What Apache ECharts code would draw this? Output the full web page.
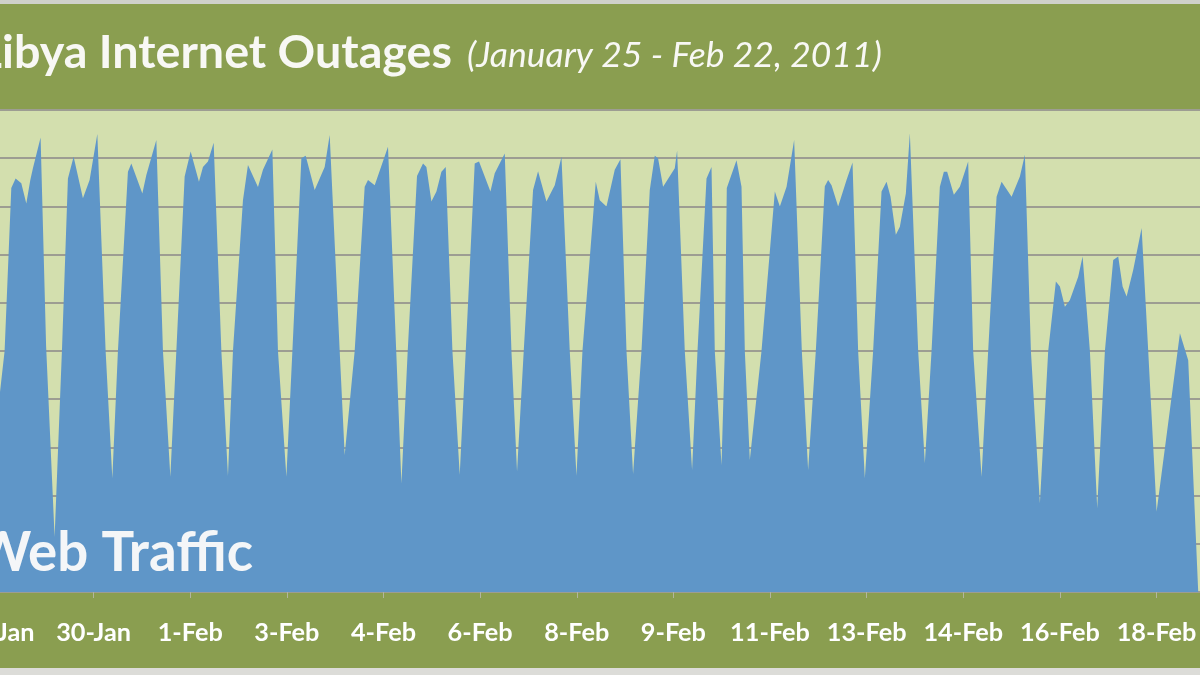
<!DOCTYPE html>
<html><head><meta charset="utf-8">
<script src="https://cdn.jsdelivr.net/npm/echarts@6/dist/echarts.min.js"></script>
<style>html,body{margin:0;padding:0;background:#8a9e50}#c{width:1200px;height:675px}</style>
</head><body><div id="c"></div>
<script>
const titleMain = 'Libya Internet Outages';
const titleSub = '(January 25 - Feb 22, 2011)';
const seriesName = 'Web Traffic';
const tickLabels = ['28-Jan','30-Jan','1-Feb','3-Feb','4-Feb','6-Feb','8-Feb','9-Feb','11-Feb','13-Feb','14-Feb','16-Feb','18-Feb'];
// hours since the 28-Jan tick (labels every 40 hours)
const hours = [0,3.15,5.92,7.70,10.06,12.13,13.79,14.87,18.05,20.33,23.85,26.95,29.36,31.72,35.57,38.34,41.53,44.97,47.74,50.06,54.20,55.61,60.17,61.82,65.96,68.70,71.76,74.24,77.68,80.17,83.60,85.26,87.33,89.69,92.88,95.61,97.68,101.82,103.89,108.03,110.10,113.99,116.31,119.79,122.28,126.00,127.78,131.51,135.65,137.72,141.86,143.93,148.07,152.21,153.58,156.36,161.86,165.26,167.41,170.02,173.87,176.36,177.76,179.83,181.91,183.98,185.76,188.53,191.55,194.04,197.76,199.54,204.26,206.05,210.19,212.96,215.28,218.05,221.91,223.98,227.45,230.89,233.67,237.10,239.88,242.36,247.87,249.52,252.30,255.73,258.09,260.58,263.31,266.79,270.23,272.30,273.66,275.74,280.58,281.54,284.72,287.74,289.98,293.71,295.78,297.14,299.92,301.28,302.11,306.13,308.20,309.57,311.64,316.48,322.00,324.07,326.85,329.99,333.17,335.78,338.96,342.69,344.06,345.47,348.20,351.68,354.16,356.48,359.26,362.69,366.17,368.24,369.90,372.09,373.75,376.23,377.89,381.33,384.10,386.87,390.31,391.97,393.33,396.11,398.59,402.03,404.10,407.56,410.31,413.79,415.86,420.00,423.44,425.51,428.00,431.72,435.16,438.34,440.00,442.07,444.14,447.58,449.40,452.42,455.45,458.63,462.07,464.14,465.96,467.62,470.35,473.83,476.56,480.04,489.69,493.12,497.26,498];
const traffic = [3.6,5.0,8.38,8.58,8.48,8.06,8.55,8.79,9.43,5.1,1.14,5.1,8.58,9.03,8.17,8.55,9.50,5.0,2.36,5.0,8.72,8.89,8.27,8.65,9.38,5.0,2.39,5.0,8.62,9.14,8.51,8.82,8.93,9.32,5.0,2.41,5.0,8.13,8.86,8.40,8.76,9.18,5.0,2.39,5.0,9.0,9.05,8.34,8.82,9.48,5.0,2.84,5.0,8.41,8.55,8.44,9.24,5.0,2.25,5.0,8.63,8.89,8.82,8.10,8.31,8.72,8.82,5.0,2.43,5.0,8.89,8.93,8.31,8.69,9.10,5.0,2.50,5.0,8.34,8.73,8.10,8.44,9.03,5.0,2.41,5.0,8.51,8.13,8.0,8.76,8.98,5.0,2.45,5.0,8.34,9.05,9.0,8.41,8.79,9.16,5.0,2.53,5.0,8.58,8.82,5.0,2.63,5.0,8.38,8.96,8.41,5.0,2.74,5.0,8.31,8.0,8.41,9.38,5.0,2.53,5.0,8.42,8.55,8.44,8.0,8.55,8.91,5.0,2.36,5.0,8.31,8.51,8.20,7.41,7.58,8.27,9.52,5.0,2.67,5.0,8.41,8.72,8.72,8.24,8.41,8.93,5.0,2.39,5.0,8.20,8.51,8.20,8.62,9.07,5.0,1.84,5.0,6.44,6.34,5.92,6.06,6.54,6.96,5.0,1.74,5.0,6.89,6.96,6.34,6.13,6.68,7.55,5.0,1.67,5.37,4.81,0,0];

const FONT = 'Lato, "Open Sans", sans-serif';
const mctx = document.createElement('canvas').getContext('2d');
function fit(text, weight, style, target) {
  mctx.font = style + ' ' + weight + ' 100px ' + FONT;
  return 100 * target / mctx.measureText(text).width;
}
// visible parts of the cropped texts fix the font sizes
const sTitle = fit(titleMain.slice(1), 'bold', 'normal', 450);
const sSub = fit(titleSub, 'normal', 'italic', 415);
const sWeb = fit(seriesName.slice(1), 'bold', 'normal', 225);
const sLab = fit('30-Jan', 'bold', 'normal', 75);

function txt(text, x, y, font, align, fill) {
  return {type: 'text', z: 100, x: x, y: y, style: {text: text, font: font, fill: fill || '#f8f8f4',
    align: align, verticalAlign: 'middle', textAlign: align, textVerticalAlign: 'middle'}};
}

const data = hours.map((h, i) => [h, traffic[i]]);
const chart = echarts.init(document.getElementById('c'), null, {renderer: 'canvas'});
chart.setOption({
  backgroundColor: '#8a9e50',
  animation: false,
  grid: {left: -3, right: 0, top: 110, bottom: 83, containLabel: false, outerBoundsMode: 'none',
    show: true, backgroundColor: '#d3dfae', borderWidth: 0},
  xAxis: {
    type: 'value', min: 0, max: 498, interval: 40,
    axisLine: {show: false},
    axisTick: {show: true, length: 6, lineStyle: {color: '#b2b5a0', width: 1}},
    splitLine: {show: false},
    axisLabel: {
      color: '#ffffff', fontFamily: FONT, fontWeight: 'bold', fontSize: sLab,
      margin: 41, verticalAlign: 'middle', showMaxLabel: false, hideOverlap: false,
      formatter: v => (v % 40 === 0 && tickLabels[v / 40]) ? tickLabels[v / 40] : ''
    }
  },
  yAxis: {
    type: 'value', min: 0, max: 10, interval: 1,
    axisLabel: {show: false}, axisLine: {show: false}, axisTick: {show: false},
    splitLine: {lineStyle: {color: '#9d9d92', width: 2}}
  },
  series: [{
    name: seriesName, type: 'line', data: data, showSymbol: false, smooth: false,
    lineStyle: {width: 0}, areaStyle: {color: '#5f96c8', opacity: 1}, z: 3
  }],
  graphic: [
    {type: 'rect', z: 50, shape: {x: 0, y: 0, width: 1200, height: 4}, style: {fill: '#cfd1cb'}},
    {type: 'rect', z: 50, shape: {x: 0, y: 668, width: 1200, height: 7}, style: {fill: '#dcdcd8'}},
    txt(titleMain, 452, 53, 'bold ' + sTitle + 'px ' + FONT, 'right'),
    txt(titleSub, 467, 56, 'italic normal ' + sSub + 'px ' + FONT, 'left'),
    txt(seriesName, 253, 553, 'bold ' + sWeb + 'px ' + FONT, 'right', '#f4f6f8')
  ]
});
</script></body></html>
